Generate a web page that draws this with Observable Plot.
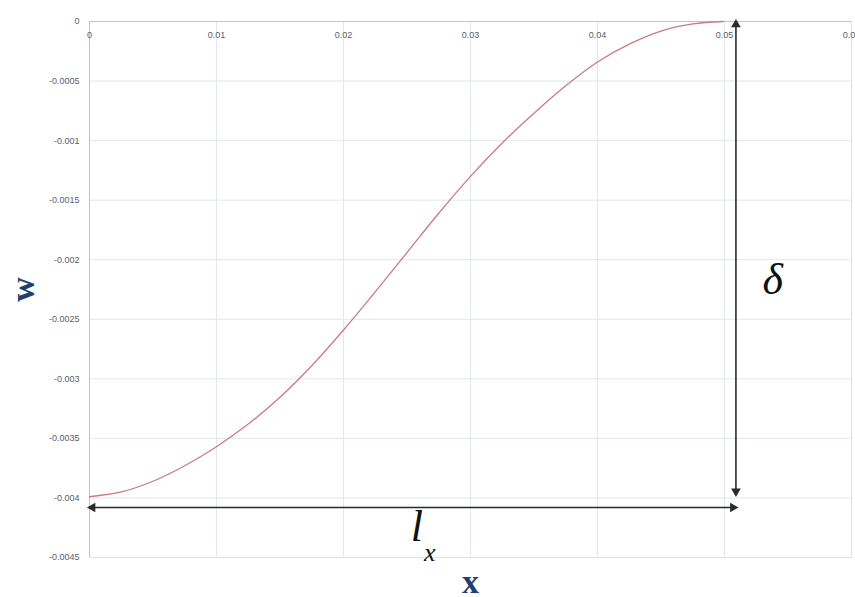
<!DOCTYPE html>
<html>
<head>
<meta charset="utf-8">
<script src="https://cdn.jsdelivr.net/npm/d3@7"></script>
<script src="https://cdn.jsdelivr.net/npm/@observablehq/plot@0.6"></script>
<style>
  html, body { margin: 0; padding: 0; background: #fff; }
  #chart svg { display: block; background: #fff; }
</style>
</head>
<body>
<div id="chart"></div>
<script>
// Curve values
const xValues = [0, 0.0025, 0.005, 0.0075, 0.01, 0.0125, 0.015, 0.0175, 0.02, 0.0225, 0.025, 0.0275, 0.03, 0.0325, 0.035, 0.0375, 0.04, 0.0425, 0.045, 0.0475, 0.0499];
const wValues = [-0.00399, -0.00395, -0.00386, -0.00373, -0.00357, -0.00338, -0.003155, -0.00289, -0.00259, -0.00227, -0.00194, -0.00161, -0.00130, -0.00102, -0.00077, -0.00054, -0.00034, -0.00019, -0.00008, -0.00002, 0];

// Tick values and labels
const xTicks = [0, 0.01, 0.02, 0.03, 0.04, 0.05, 0.06];
const xTickLabels = ["0", "0.01", "0.02", "0.03", "0.04", "0.05", "0.06"];
const yTicks = [0, -0.0005, -0.001, -0.0015, -0.002, -0.0025, -0.003, -0.0035, -0.004, -0.0045];
const yTickLabels = ["0", "-0.0005", "-0.001", "-0.0015", "-0.002", "-0.0025", "-0.003", "-0.0035", "-0.004", "-0.0045"];

// Annotation arrows (data coordinates)
const deltaArrowX = [0.0509];
const deltaArrowY = [0, -0.00397];
const lxArrowY = [-0.00408];
const lxArrowX = [0, 0.0509];

// Annotation texts
const deltaLabel = {text: "δ", x: 0.0538, y: -0.00217};
const lLabel = {text: "l", x: 0.02577, y: -0.004246};
const lSubLabel = {text: "x", x: 0.02679, y: -0.004459};
const axisLabelX = "x";
const axisLabelY = "w";

const curve = xValues.map((x, i) => ({x, w: wValues[i]}));
const serif = "'Liberation Serif', 'Times New Roman', serif";
const sans = "'Liberation Sans', Arial, sans-serif";
const labelBlue = "#22406f";
const tickColor = "#56616c";
const arrowColor = "#2b2b2b";

const vArrow = [{x: deltaArrowX[0], y1: deltaArrowY[0], y2: deltaArrowY[1]}];
const hArrow = [{y: lxArrowY[0], x1: lxArrowX[0], x2: lxArrowX[1]}];

const chart = Plot.plot({
  width: 855,
  height: 597,
  marginLeft: 89,
  marginTop: 21,
  marginRight: 4,
  marginBottom: 40,
  style: {background: "#fff", fontFamily: sans},
  x: {domain: [0, 0.06], axis: null},
  y: {domain: [-0.0045, 0]},
  marks: [
    Plot.gridX(xTicks, {stroke: "#e1e7ed", strokeOpacity: 1}),
    Plot.gridY(yTicks, {stroke: "#e1e7ed", strokeOpacity: 1}),
    Plot.frame({stroke: "#dde2e7"}),
    Plot.ruleX([0], {stroke: "#bfc5cb"}),
    Plot.ruleY([0], {stroke: "#bfc5cb"}),
    Plot.axisY({ticks: yTicks, tickFormat: (d, i) => yTickLabels[i], tickSize: 0, tickPadding: 10, fontSize: 9, color: tickColor}),
    Plot.text(xTicks, {x: d => d, text: (d, i) => xTickLabels[i], frameAnchor: "top", dy: 14, lineAnchor: "middle", fontSize: 9, fill: tickColor}),
    Plot.line(curve, {x: "x", y: "w", curve: "catmull-rom", stroke: "#c97a83", strokeWidth: 1.3}),
    // vertical double arrow (delta)
    Plot.ruleX(vArrow, {x: "x", y1: "y1", y2: "y2", stroke: arrowColor, strokeWidth: 1.6}),
    Plot.dot(vArrow, {x: "x", y: "y1", symbol: "triangle", r: 3.6, fill: arrowColor, stroke: "none", rotate: 0, dy: 3}),
    Plot.dot(vArrow, {x: "x", y: "y2", symbol: "triangle", r: 3.6, fill: arrowColor, stroke: "none", rotate: 180, dy: -3}),
    // horizontal double arrow (l_x)
    Plot.ruleY(hArrow, {y: "y", x1: "x1", x2: "x2", stroke: arrowColor, strokeWidth: 1.6}),
    Plot.dot(hArrow, {x: "x1", y: "y", symbol: "triangle", r: 3.6, fill: arrowColor, stroke: "none", rotate: -90, dx: 3}),
    Plot.dot(hArrow, {x: "x2", y: "y", symbol: "triangle", r: 3.6, fill: arrowColor, stroke: "none", rotate: 90, dx: -3}),
    // annotation labels
    Plot.text([deltaLabel], {x: "x", y: "y", text: "text", fontSize: 44, fontStyle: "italic", fontFamily: serif, fill: "#111", lineAnchor: "middle"}),
    Plot.text([lLabel], {x: "x", y: "y", text: "text", fontSize: 44, fontStyle: "italic", fontFamily: serif, fill: "#111", lineAnchor: "middle"}),
    Plot.text([lSubLabel], {x: "x", y: "y", text: "text", fontSize: 26, fontStyle: "italic", fontFamily: serif, fill: "#111", lineAnchor: "middle"}),
    // axis titles
    Plot.text([axisLabelX], {frameAnchor: "bottom", dy: 25, text: d => d, textAnchor: "middle", fontSize: 34, fontWeight: "bold", fontFamily: serif, fill: labelBlue, lineAnchor: "middle"}),
    Plot.text([axisLabelY], {frameAnchor: "left", dx: -66, text: d => d, textAnchor: "middle", rotate: -90, fontSize: 34, fontWeight: "bold", fontFamily: serif, fill: labelBlue, lineAnchor: "middle"})
  ]
});
document.getElementById("chart").appendChild(chart);
</script>
</body>
</html>
